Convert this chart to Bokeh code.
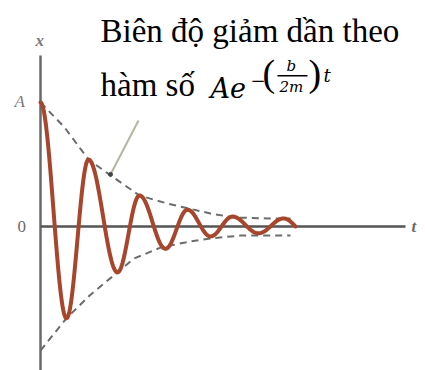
import numpy as np
from bokeh.plotting import figure
from bokeh.models import Range1d, Label, BoxAnnotation
from bokeh.embed import file_html
from bokeh.resources import INLINE

# Turning points of the damped oscillation (time, displacement; A = 1)
peak_t = [0.0, 2.6, 4.8, 7.7, 9.9, 12.5, 14.7, 17.0, 19.2, 21.8, 24.3, 25.5]
peak_x = [1.0, -0.74, 0.54, -0.37, 0.25, -0.18, 0.135, -0.08, 0.08, -0.055, 0.065, 0.0]

# Envelope curves +/- A e^{-(b/2m)t}
upper_t = [0.0, 2.4, 4.8, 6.7, 9.9, 12.7, 17.0, 19.3, 22.7, 25.0]
upper_x = [1.0, 0.80, 0.54, 0.43, 0.25, 0.185, 0.105, 0.073, 0.065, 0.065]
lower_t = [0.0, 2.6, 5.0, 7.7, 9.3, 12.0, 15.0, 17.0, 20.0, 25.0]
lower_x = [-1.0, -0.74, -0.55, -0.37, -0.26, -0.17, -0.12, -0.097, -0.073, -0.073]

# Callout pointer from the caption to the upper envelope
pointer_t = [7.0, 9.8]
pointer_x = [0.42, 0.855]

W, H = 425, 370
p = figure(width=W, height=H, output_backend="svg", toolbar_location=None,
           x_range=Range1d(-4.0, 38.5), y_range=Range1d(-1.1613, 1.8226),
           min_border=0, outline_line_color=None,
           background_fill_color="white", border_fill_color="white")
p.axis.visible = False
p.grid.visible = False

# coordinate axes
p.segment(x0=[0.0], y0=[-1.17], x1=[0.0], y1=[1.38], line_color="#6a6a6a", line_width=2.5)
p.segment(x0=[0.0], y0=[0.0], x1=[36.5], y1=[0.0], line_color="#555555", line_width=2.5)

# dashed envelopes
p.line(upper_t, upper_x, line_color="#6c6c6c", line_width=2, line_dash="7 5")
p.line(lower_t, lower_x, line_color="#6c6c6c", line_width=2, line_dash="7 5")

# pointer
p.line(pointer_t, pointer_x, line_color="#b3b6a0", line_width=2)
p.scatter([pointer_t[0]], [pointer_x[0]], size=4, color="#444444")

# oscillation: half-cosine arcs between consecutive turning points
ts, xs = [], []
s = np.linspace(0.0, 1.0, 40)
for i in range(len(peak_t) - 1):
    t0, t1 = peak_t[i], peak_t[i + 1]
    x0, x1 = peak_x[i], peak_x[i + 1]
    if i == len(peak_t) - 2:
        seg = x0 * np.cos(0.5 * np.pi * s)
    else:
        seg = x0 + (x1 - x0) * (1 - np.cos(np.pi * s)) / 2
    ts.extend(t0 + s * (t1 - t0))
    xs.extend(seg)
p.line(ts, xs, line_color="#a8452d", line_width=4, line_join="round", line_cap="round")


def lab(text, x, baseline, size, font="Liberation Serif", style="normal", color="black"):
    # place the text so that its baseline sits `baseline` px below the top edge
    y_top = baseline - 0.4 * size
    p.add_layout(Label(x=x, y=H - y_top, x_units="screen", y_units="screen", text=text,
                       text_font=font, text_font_size=f"{size}px", text_font_style=style,
                       text_color=color, text_baseline="alphabetic", text_align="left"))


# axis labels
lab("x", 35, 47, 17, style="bold italic", color="#7a7a7a")
lab("A", 14, 108, 17, style="italic", color="#7a7a7a")
lab("0", 17, 233, 17, color="#6a6a6a")
lab("t", 411, 233, 17, style="bold italic", color="#6a6a6a")

# caption
lab("Biên độ giảm dần theo", 100, 44, 33)
lab("hàm số", 100, 98, 33)
lab("Ae", 210, 99, 27, font="DejaVu Serif", style="italic")
lab("−", 250, 87, 18, font="DejaVu Serif")
lab("(", 262, 88, 38, font="Liberation Serif")
lab("b", 286, 71, 15, font="DejaVu Serif", style="italic")
lab("2m", 279, 92, 15, font="DejaVu Serif", style="italic")
lab(")", 308, 88, 38, font="Liberation Serif")
lab("t", 323, 82, 18, font="DejaVu Serif", style="italic")
p.add_layout(BoxAnnotation(left=277, right=307, bottom=H - 76, top=H - 74.5,
                           left_units="screen", right_units="screen",
                           bottom_units="screen", top_units="screen",
                           fill_color="black", fill_alpha=1.0, line_color=None))

open("out.html", "w").write(file_html(p, INLINE))
